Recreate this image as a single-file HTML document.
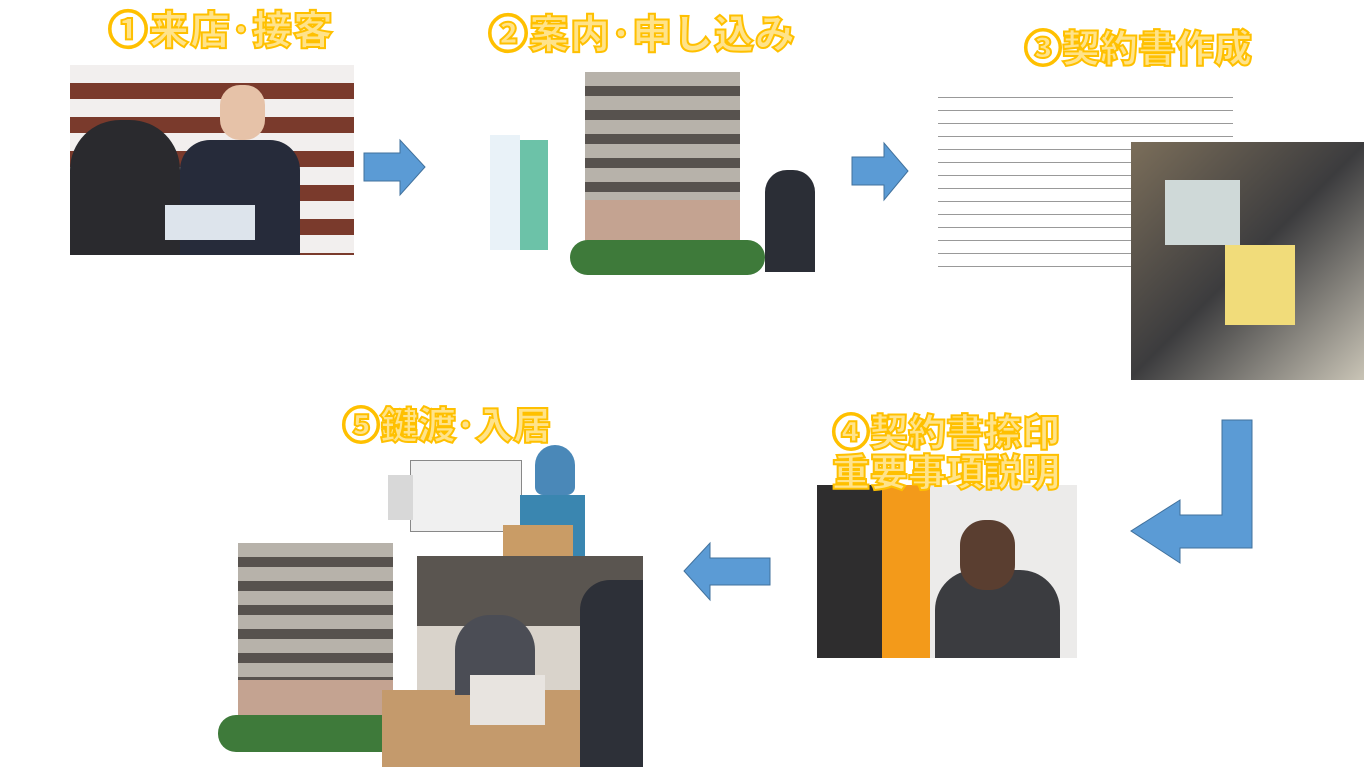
<!DOCTYPE html>
<html><head><meta charset="utf-8"><style>
body{margin:0;width:1364px;height:767px;background:#fff;position:relative;overflow:hidden;font-family:"Liberation Sans","Noto Sans CJK JP",sans-serif}
.t{position:absolute;font-weight:900;font-size:40px;color:#FFE38A;-webkit-text-stroke:2px #FFC000;white-space:nowrap;line-height:1.05;z-index:2}
.b{position:absolute}
</style></head><body>
<div class="t" style="left:108px;top:10px;letter-spacing:1px">①来店･接客</div>
<div class="t" style="left:488px;top:14px;letter-spacing:1px">②案内･申し込み</div>
<div class="t" style="left:1024px;top:31px;font-size:38px">③契約書作成</div>
<div class="t" style="left:832px;top:415px;font-size:38px">④契約書捺印<br>重要事項説明</div>
<div class="t" style="left:342px;top:408px;font-size:38px">⑤鍵渡･入居</div>

<!-- photo 1 -->
<div class="b" style="left:70px;top:65px;width:284px;height:190px;background:repeating-linear-gradient(#f2efee 0 18px,#7a3a2c 18px 34px)"></div>
<div class="b" style="left:70px;top:120px;width:110px;height:135px;background:#2a2a2e;border-radius:50px 50px 0 0"></div>
<div class="b" style="left:180px;top:140px;width:120px;height:115px;background:#262b3a;border-radius:30px 30px 0 0"></div>
<div class="b" style="left:220px;top:85px;width:45px;height:55px;background:#e6c2a8;border-radius:20px"></div>
<div class="b" style="left:165px;top:205px;width:90px;height:35px;background:#dde4ec"></div>

<!-- people + building 2 -->
<div class="b" style="left:490px;top:135px;width:30px;height:115px;background:#e9f2f8"></div>
<div class="b" style="left:520px;top:140px;width:28px;height:110px;background:#6cc2a8"></div>
<div class="b" style="left:585px;top:72px;width:155px;height:190px;background:repeating-linear-gradient(#b7b2aa 0 14px,#57524e 14px 24px)"></div>
<div class="b" style="left:585px;top:200px;width:155px;height:62px;background:#c4a391"></div>
<div class="b" style="left:570px;top:240px;width:195px;height:35px;background:#3e7a3a;border-radius:18px"></div>
<div class="b" style="left:765px;top:170px;width:50px;height:102px;background:#2b2e36;border-radius:22px 22px 0 0"></div>

<!-- doc + photo 3 -->
<div class="b" style="left:938px;top:85px;width:295px;height:192px;background:repeating-linear-gradient(#fff 0 12px,#999 12px 13px)"></div>
<div class="b" style="left:1131px;top:142px;width:233px;height:238px;background:linear-gradient(135deg,#7b6e5a,#3c3c3e 50%,#c9c4b6)"></div>
<div class="b" style="left:1165px;top:180px;width:75px;height:65px;background:#cfd9d8"></div>
<div class="b" style="left:1225px;top:245px;width:70px;height:80px;background:#f1dc7a"></div>

<!-- photo 4 -->
<div class="b" style="left:817px;top:485px;width:260px;height:173px;background:#ecebea"></div>
<div class="b" style="left:880px;top:485px;width:50px;height:173px;background:#f39a1a"></div>
<div class="b" style="left:817px;top:485px;width:65px;height:173px;background:#2e2d2e"></div>
<div class="b" style="left:935px;top:570px;width:125px;height:88px;background:#3b3c40;border-radius:40px 40px 0 0"></div>
<div class="b" style="left:960px;top:520px;width:55px;height:70px;background:#5a3e30;border-radius:25px"></div>

<!-- truck -->
<div class="b" style="left:410px;top:460px;width:110px;height:70px;background:#f0f0f0;border:1px solid #888"></div>
<div class="b" style="left:388px;top:475px;width:25px;height:45px;background:#d8d8d8"></div>
<div class="b" style="left:535px;top:445px;width:40px;height:50px;background:#4a88b8;border-radius:20px 20px 8px 8px"></div>
<div class="b" style="left:520px;top:495px;width:65px;height:70px;background:#3a86b0"></div>
<div class="b" style="left:503px;top:525px;width:70px;height:42px;background:#c99c66"></div>

<!-- building 5 -->
<div class="b" style="left:238px;top:543px;width:155px;height:190px;background:repeating-linear-gradient(#b7b2aa 0 14px,#57524e 14px 24px)"></div>
<div class="b" style="left:238px;top:680px;width:155px;height:53px;background:#c4a391"></div>
<div class="b" style="left:218px;top:715px;width:199px;height:37px;background:#3e7a3a;border-radius:18px"></div>

<!-- photo 5 -->
<div class="b" style="left:417px;top:556px;width:226px;height:211px;background:#d9d3cb"></div>
<div class="b" style="left:417px;top:556px;width:226px;height:70px;background:#5a5550"></div>
<div class="b" style="left:382px;top:690px;width:261px;height:77px;background:#c49a6c"></div>
<div class="b" style="left:455px;top:615px;width:80px;height:80px;background:#4b4d55;border-radius:35px 35px 0 0"></div>
<div class="b" style="left:580px;top:580px;width:63px;height:187px;background:#2d3038;border-radius:30px 0 0 0"></div>
<div class="b" style="left:470px;top:675px;width:75px;height:50px;background:#e8e4e0"></div>

<!-- arrows -->
<svg width="1364" height="767" style="position:absolute;left:0;top:0">
<g fill="#5B9BD5" stroke="#41719C" stroke-width="1">
<polygon points="364,153 400,153 400,140 425,167 400,195 400,181 364,181"/>
<polygon points="852,157 884,157 884,143 908,171 884,200 884,185 852,185"/>
<polygon points="770,558 710,558 710,543 684,571 710,600 710,585 770,585"/>
<polygon points="1222,420 1252,420 1252,548 1180,548 1180,563 1131,531 1180,500 1180,515 1222,515"/>
</g></svg>
</body></html>
